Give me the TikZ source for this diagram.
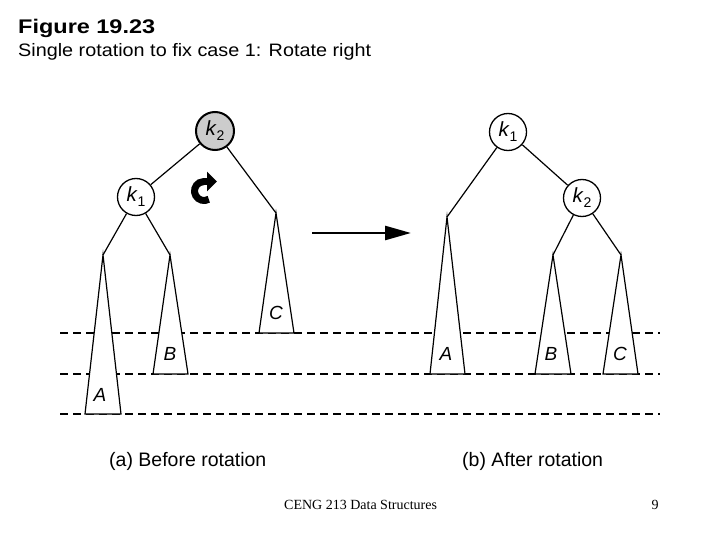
\documentclass[tikz,border=0pt]{standalone}
\usepackage{fontspec}
\setmainfont{Liberation Sans}
\newfontfamily\footfont{Liberation Serif}
\usetikzlibrary{arrows.meta}
\definecolor{nodegray}{RGB}{204,204,204}
\newcommand{\kk}[1]{\textit{k}\raisebox{-5pt}{\fontsize{14}{14}\selectfont #1}}
\tikzset{
  keynode/.style={circle, draw, line width=1.3pt, minimum size=37pt, inner sep=0pt, font=\fontsize{20.5}{20}\selectfont},
  edge/.style={line width=1.2pt},
  subtree/.style={line width=1.2pt, line join=miter},
  sublabel/.style={font=\fontsize{19}{19}\selectfont\itshape, inner sep=0pt},
  level/.style={line width=1.3pt, dash pattern=on 8pt off 5pt},
  caption/.style={font=\fontsize{19.5}{20}\selectfont, anchor=base west, inner sep=0pt},
}
\begin{document}
\begin{tikzpicture}[x=1pt,y=-1pt]
\useasboundingbox (0,0) rectangle (720,540);

% titles
\node[anchor=base west, inner sep=0pt] (title) at (18,33.3) {\resizebox{137pt}{14.3pt}{\fontsize{20}{24}\selectfont\bfseries Figure 19.23}};
\node[anchor=base west, inner sep=0pt, font=\fontsize{18}{20}\selectfont] (subtitle) at (18,57) {\scalebox{1.1}[1]{Single rotation to fix case 1: Rotate right}};

% level lines
\draw[level] (60,333) -- (660,333);
\draw[level] (60,374) -- (660,374);
\draw[level] (60,414) -- (660,414);

% ---------- left tree ----------
\node[keynode, fill=nodegray, line width=2pt, minimum size=38pt] (lk2) at (215,131) {\kk{2}};
\node[keynode, fill=white] (lk1) at (136,197) {\kk{1}};
\coordinate (lA) at (103,255);
\coordinate (lB) at (170,255);
\coordinate (lC) at (276,213);
\draw[edge] (lk2) -- (lk1);
\draw[edge] (lk2) -- (lC);
\draw[edge] (lk1) -- (lA);
\draw[edge] (lk1) -- (lB);
\draw[subtree, fill=white] (lA) -- (85,414) -- (121,414) -- cycle;
\draw[subtree, fill=white] (lB) -- (153,374) -- (188,374) -- cycle;
\draw[subtree, fill=white] (lC) -- (259,333) -- (294,333) -- cycle;
\node[sublabel] (lAl) at (100,395) {A};
\node[sublabel] (lBl) at (170,354) {B};
\node[sublabel] (lCl) at (276,313) {C};

% rotation arrow
\coordinate (rotS) at ({204+9.5*cos(60)},{191+9.5*sin(60)});
\coordinate (rotT) at (203,181.5);
\coordinate (rotE) at (217,181.5);
\draw[line width=7pt] (rotS) arc[start angle=60, end angle=270, radius=9.5];
\draw[line width=7pt, -{Triangle[length=10pt,width=19pt]}] (rotT) -- (rotE);

% middle arrow
\coordinate (m1) at (312,233);
\coordinate (m2) at (411,233);
\draw[line width=2.5pt, -{Triangle[length=26pt,width=14pt]}] (m1) -- (m2);

% ---------- right tree ----------
\node[keynode] (rk1) at (508,132) {\kk{1}};
\node[keynode] (rk2) at (582,198) {\kk{2}};
\coordinate (rA) at (447,217);
\coordinate (rB) at (553,255);
\coordinate (rC) at (621,255);
\draw[edge] (rk1) -- (rk2);
\draw[edge] (rk1) -- (rA);
\draw[edge] (rk2) -- (rB);
\draw[edge] (rk2) -- (rC);
\draw[subtree, fill=white] (rA) -- (430,374) -- (465,374) -- cycle;
\draw[subtree, fill=white] (rB) -- (535,374) -- (571,374) -- cycle;
\draw[subtree, fill=white] (rC) -- (603,374) -- (638,374) -- cycle;
\node[sublabel] (rAl) at (446,354) {A};
\node[sublabel] (rBl) at (551,354) {B};
\node[sublabel] (rCl) at (620,354) {C};

% captions
\node[caption] (capa) at (109,466) {(a) Before rotation};
\node[caption] (capb) at (462,466) {(b) After rotation};

% footer
\node[anchor=base west, inner sep=0pt, font=\footfont\fontsize{14}{14}\selectfont] (foot) at (284,509) {CENG 213 Data Structures};
\node[anchor=base, inner sep=0pt, font=\footfont\fontsize{14}{14}\selectfont] (page) at (655,509) {9};
\end{tikzpicture}
\end{document}
